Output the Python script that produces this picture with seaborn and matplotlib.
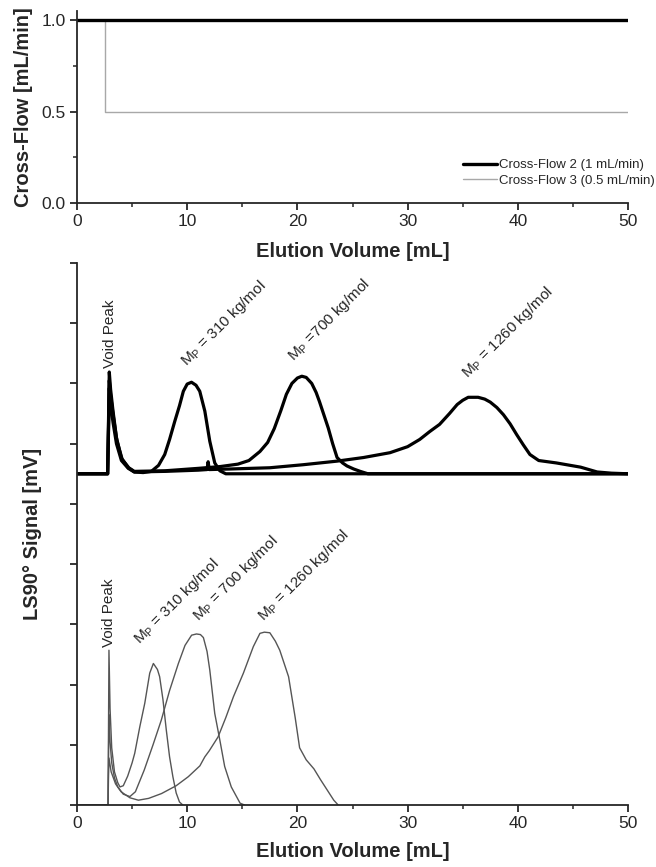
import matplotlib
matplotlib.use("Agg")
import matplotlib.pyplot as plt
import seaborn as sns
import pandas as pd

# ---- cross-flow programmes (mL/min vs elution volume, mL) ----
cf2_x = [0, 50]
cf2_y = [1.0, 1.0]
cf3_x = [0, 2.5, 2.5, 50]
cf3_y = [1.0, 1.0, 0.5, 0.5]

# ---- LS90 traces, cross-flow 2 (1 mL/min) ----
cf2_310_x = [0, 2.78, 2.86, 2.93, 3.05, 3.27, 3.58, 4.03, 4.65, 5.2, 6.0, 6.75, 7.4,
             7.96, 8.4, 8.87, 9.3, 9.65, 10.0, 10.39, 10.8, 11.14, 11.6, 12.05, 12.5,
             12.96, 13.5, 50]
cf2_310_y = [0, 0, 0.9, 1.69, 1.4, 1.04, 0.6, 0.26, 0.1, 0.03, 0.02, 0.04, 0.14,
             0.32, 0.57, 0.87, 1.13, 1.37, 1.49, 1.52, 1.47, 1.37, 1.04, 0.54, 0.18,
             0.05, 0, 0]

cf2_700_x = [0, 2.78, 2.86, 2.93, 3.05, 3.3, 3.62, 4.1, 4.7, 5.2, 8.0, 11.0, 13.0,
             14.6, 15.6, 16.6, 17.3, 17.9, 18.5, 19.0, 19.5, 20.0, 20.4, 20.8, 21.3,
             21.7, 22.0, 22.4, 22.8, 23.2, 23.6, 24.1, 24.5, 25.1, 25.7, 26.4, 50]
cf2_700_y = [0, 0, 0.8, 1.55, 1.3, 0.95, 0.55, 0.24, 0.1, 0.04, 0.05, 0.09, 0.12,
             0.16, 0.22, 0.37, 0.52, 0.75, 1.05, 1.32, 1.5, 1.59, 1.62, 1.6, 1.5,
             1.35, 1.2, 0.98, 0.76, 0.5, 0.27, 0.18, 0.13, 0.08, 0.04, 0, 0]

cf2_1260_x = [0, 2.78, 2.86, 2.93, 3.05, 3.27, 3.58, 4.03, 4.65, 5.2, 8.0, 11.0, 11.8,
              11.9, 12.0, 14.0, 17.5, 20.5, 23.6, 26.0, 28.4, 30.0, 31.1, 32.0, 32.9,
              33.8, 34.5, 35.0, 35.5, 36.4, 37.0, 37.5, 38.1, 38.7, 39.3, 39.9, 40.5,
              41.1, 41.9, 43.5, 45.7, 47.2, 48.5, 50]
cf2_1260_y = [0, 0, 0.7, 1.42, 1.15, 0.85, 0.5, 0.22, 0.09, 0.03, 0.04, 0.06, 0.07,
              0.2, 0.07, 0.08, 0.1, 0.15, 0.21, 0.27, 0.35, 0.45, 0.57, 0.7, 0.82,
              1.0, 1.15, 1.22, 1.27, 1.27, 1.24, 1.19, 1.1, 0.98, 0.83, 0.65, 0.48,
              0.32, 0.22, 0.18, 0.11, 0.03, 0.01, 0]

# ---- LS90 traces, cross-flow 3 (0.5 mL/min) ----
cf3_310_x = [0, 2.82, 2.86, 2.9, 3.0, 3.15, 3.4, 3.7, 3.9, 4.2, 4.6, 5.0, 5.24, 5.7,
             6.15, 6.6, 6.93, 7.3, 7.5, 7.8, 8.1, 8.4, 8.7, 9.0, 9.3, 9.6]
cf3_310_y = [0, 0, 1.3, 2.57, 1.6, 0.95, 0.55, 0.37, 0.3, 0.32, 0.48, 0.7, 0.86, 1.3,
             1.69, 2.19, 2.35, 2.25, 2.13, 1.75, 1.25, 0.8, 0.47, 0.2, 0.05, 0]

cf3_700_x = [0, 2.82, 2.86, 2.9, 3.0, 3.15, 3.4, 3.7, 4.2, 4.8, 5.3, 6.1, 6.9, 7.65,
             8.4, 9.2, 9.8, 10.4, 10.84, 11.2, 11.47, 11.8, 12.05, 12.5, 12.96, 13.4,
             14.0, 14.8, 15.2]
cf3_700_y = [0, 0, 0.8, 1.5, 1.05, 0.7, 0.45, 0.3, 0.18, 0.14, 0.22, 0.58, 1.0, 1.41,
             1.9, 2.35, 2.65, 2.82, 2.84, 2.83, 2.78, 2.55, 2.24, 1.52, 1.08, 0.64,
             0.3, 0.03, 0]

cf3_1260_x = [0, 2.82, 2.86, 2.9, 3.1, 3.5, 4.0, 4.8, 5.57, 6.5, 7.67, 9.0, 10.1,
              11.15, 11.6, 12.0, 12.8, 13.5, 14.2, 15.1, 16.0, 16.6, 17.0, 17.5,
              18.0, 18.4, 19.2, 19.8, 20.2, 20.8, 21.5, 22.1, 22.7, 23.3, 23.7]
cf3_1260_y = [0, 0, 0.5, 0.78, 0.55, 0.35, 0.22, 0.12, 0.08, 0.11, 0.19, 0.32, 0.47,
              0.65, 0.8, 0.9, 1.13, 1.45, 1.8, 2.19, 2.63, 2.85, 2.87, 2.86, 2.72,
              2.57, 2.13, 1.45, 0.95, 0.75, 0.6, 0.42, 0.25, 0.08, 0]

mass_labels = ["310", "700", "1260"]
x_ticks = [0, 10, 20, 30, 40, 50]

sns.set_style("ticks")
plt.rcParams["font.family"] = ["Liberation Sans", "DejaVu Sans"]
plt.rcParams["mathtext.fontset"] = "custom"
plt.rcParams["mathtext.rm"] = "Liberation Sans"
plt.rcParams["axes.linewidth"] = 1.3
plt.rcParams["xtick.major.width"] = 1.3
plt.rcParams["ytick.major.width"] = 1.3
plt.rcParams["xtick.minor.width"] = 1.1
plt.rcParams["ytick.minor.width"] = 1.1
plt.rcParams["xtick.direction"] = "out"
plt.rcParams["ytick.direction"] = "out"

fig = plt.figure(figsize=(6.56, 8.67), dpi=100)
W, H = 656.0, 867.0
ax_top = fig.add_axes([77 / W, (H - 203) / H, 551 / W, 192 / H])
ax_bot = fig.add_axes([77 / W, (H - 805) / H, 551 / W, 542 / H])

tick_fs = 12.5
label_fs = 14.5
note_fs = 11

# ---------- cross-flow panel ----------
sns.lineplot(x=cf3_x, y=cf3_y, ax=ax_top, color="#a8a8a8", lw=1.0,
             estimator=None, sort=False, label="Cross-Flow 3 (0.5 mL/min)")
sns.lineplot(x=cf2_x, y=cf2_y, ax=ax_top, color="black", lw=2.4,
             estimator=None, sort=False, label="Cross-Flow 2 (1 mL/min)")
ax_top.set_xlim(0, 50)
ax_top.set_ylim(0, 1.05)
ax_top.set_xticks(x_ticks)
ax_top.set_xticks([5, 15, 25, 35, 45], minor=True)
ax_top.set_yticks([0, 0.5, 1.0])
ax_top.set_yticklabels(["0.0", "0.5", "1.0"])
ax_top.set_yticks([0.25, 0.75], minor=True)
ax_top.tick_params(which="major", length=5, pad=3, labelsize=tick_fs)
ax_top.tick_params(which="minor", length=3)
ax_top.set_xlabel("Elution Volume [mL]", fontsize=label_fs, fontweight="bold", labelpad=9)
ax_top.set_ylabel("Cross-Flow [mL/min]", fontsize=label_fs, fontweight="bold")
ax_top.yaxis.set_label_coords(-0.08, 0.5)
sns.despine(ax=ax_top)
handles, labels = ax_top.get_legend_handles_labels()
ax_top.legend(handles[::-1], labels[::-1], loc="lower right",
              bbox_to_anchor=(655 / W, (H - 187) / H), bbox_transform=fig.transFigure,
              frameon=False, fontsize=9.5, handlelength=2.6, handletextpad=0.15,
              labelspacing=0.25, borderpad=0, borderaxespad=0)

# ---------- LS90 panel ----------
offset = 5.5
cf2_sets = [(cf2_310_x, cf2_310_y), (cf2_700_x, cf2_700_y), (cf2_1260_x, cf2_1260_y)]
cf3_sets = [(cf3_310_x, cf3_310_y), (cf3_700_x, cf3_700_y), (cf3_1260_x, cf3_1260_y)]

for xs, ys in cf3_sets:
    df = pd.DataFrame({"v": xs, "s": ys})
    sns.lineplot(data=df, x="v", y="s", ax=ax_bot, color="#555555", lw=1.0,
                 estimator=None, sort=False)
for xs, ys in cf2_sets:
    df = pd.DataFrame({"v": xs, "s": [y + offset for y in ys]})
    sns.lineplot(data=df, x="v", y="s", ax=ax_bot, color="black", lw=2.3,
                 estimator=None, sort=False)

ax_bot.set_xlim(0, 50)
ax_bot.set_ylim(0, 9)
ax_bot.set_xticks(x_ticks)
ax_bot.set_xticks([5, 15, 25, 35, 45], minor=True)
ax_bot.set_yticks(range(10))
ax_bot.set_yticklabels([])
ax_bot.tick_params(which="major", length=5, pad=3, labelsize=tick_fs)
ax_bot.tick_params(which="minor", length=3)
ax_bot.set_xlabel("Elution Volume [mL]", fontsize=label_fs, fontweight="bold", labelpad=8)
ax_bot.set_ylabel("LS90° Signal [mV]", fontsize=label_fs, fontweight="bold")
ax_bot.yaxis.set_label_coords(-0.064, 0.5)
sns.despine(ax=ax_bot)

# peak annotations
ax_bot.text(2.97, 7.25, "Void Peak", rotation=90, ha="center", va="bottom", fontsize=note_fs)
ax_bot.text(2.91, 2.63, "Void Peak", rotation=90, ha="center", va="bottom", fontsize=note_fs)

upper_notes = [(9.94, 7.29, r"M$_{\mathregular{P}}$ = " + mass_labels[0] + " kg/mol"),
               (19.6, 7.37, r"M$_{\mathregular{P}}$ =" + mass_labels[1] + " kg/mol"),
               (35.4, 7.09, r"M$_{\mathregular{P}}$ = " + mass_labels[2] + " kg/mol")]
lower_notes = [(5.7, 2.66, r"M$_{\mathregular{P}}$ = " + mass_labels[0] + " kg/mol"),
               (11.0, 3.05, r"M$_{\mathregular{P}}$ = " + mass_labels[1] + " kg/mol"),
               (16.9, 3.05, r"M$_{\mathregular{P}}$ = " + mass_labels[2] + " kg/mol")]
for x, y, s in upper_notes + lower_notes:
    ax_bot.text(x, y, s, rotation=45, rotation_mode="anchor", ha="left",
                va="baseline", fontsize=note_fs)

fig.savefig("out.png", dpi=100)
